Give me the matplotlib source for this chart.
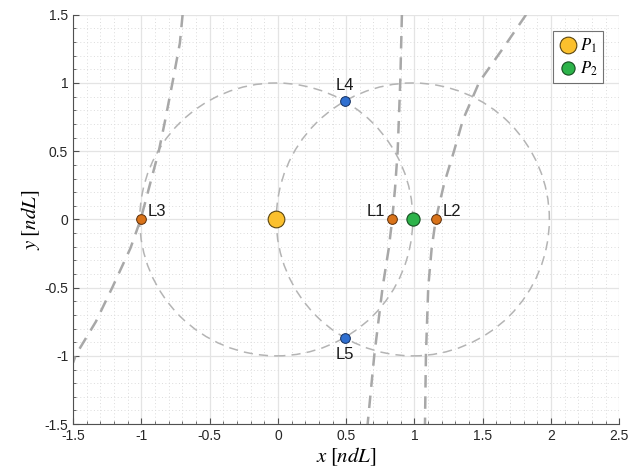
import numpy as np
import matplotlib.pyplot as plt
from matplotlib.patches import Circle
from matplotlib.ticker import MultipleLocator

plt.rcParams['font.family'] = ['Liberation Sans', 'DejaVu Sans']
plt.rcParams['mathtext.fontset'] = 'stix'

# primaries
mu = 0.01215
p1 = (-mu, 0.0)
p2 = (1 - mu, 0.0)

# libration points
lx = [0.837, 1.156, -1.005, 0.488, 0.488]
ly = [0.0, 0.0, 0.0, 0.866, -0.866]
lnames = ['L1', 'L2', 'L3', 'L4', 'L5']

# dashed curves
c3x = [-0.698, -0.718, -0.771, -0.825, -0.872, -0.935, -1.005, -1.080, -1.211, -1.333, -1.480, -1.50]
c3y = [1.50, 1.292, 1.008, 0.730, 0.502, 0.265, 0.0, -0.211, -0.495, -0.749, -0.993, -1.05]
c1x = [0.908, 0.896, 0.877, 0.858, 0.837, 0.812, 0.767, 0.706, 0.657]
c1y = [1.50, 1.008, 0.502, 0.230, 0.0, -0.211, -0.495, -0.993, -1.50]
c2x = [1.817, 1.675, 1.475, 1.355, 1.290, 1.218, 1.156, 1.126, 1.101, 1.084, 1.077]
c2y = [1.50, 1.292, 1.008, 0.730, 0.502, 0.265, 0.0, -0.211, -0.495, -0.993, -1.50]

fig = plt.figure(figsize=(6.3, 4.76), dpi=100)
ax = fig.add_axes([0.116, 0.109, 0.867, 0.860])

ax.set_xlim(-1.5, 2.5)
ax.set_ylim(-1.5, 1.5)
ax.xaxis.set_major_locator(MultipleLocator(0.5))
ax.yaxis.set_major_locator(MultipleLocator(0.5))
ax.xaxis.set_minor_locator(MultipleLocator(0.1))
ax.yaxis.set_minor_locator(MultipleLocator(0.1))
ax.grid(which='major', color='#e4e4e4', lw=0.9)
ax.grid(which='minor', color='#dcdcdc', lw=0.7, ls=(0, (1, 2.5)))
ax.set_axisbelow(True)
for s in ['top', 'right']:
    ax.spines[s].set_visible(False)
for s in ['left', 'bottom']:
    ax.spines[s].set_color('#505050')
ax.tick_params(which='both', direction='in', colors='#505050', labelcolor='#262626', labelsize=10)
ax.tick_params(which='major', length=4)
ax.tick_params(which='minor', length=2)
ax.set_xticks(np.arange(-1.5, 2.51, 0.5))
ax.set_xticklabels(['-1.5', '-1', '-0.5', '0', '0.5', '1', '1.5', '2', '2.5'])
ax.set_yticks(np.arange(-1.5, 1.51, 0.5))
ax.set_yticklabels(['-1.5', '-1', '-0.5', '0', '0.5', '1', '1.5'])

for c in [p1, p2]:
    ax.add_patch(Circle(c, 1.0, fill=False, ec='#b4b4b4', lw=1.1, ls=(0, (6, 4))))

for cx, cy in [(c3x, c3y), (c1x, c1y), (c2x, c2y)]:
    ax.plot(cx, cy, color='#a8a8a8', lw=1.8, ls=(0, (5, 3.5)))

ax.plot(lx[:3], ly[:3], 'o', color='#d9731a', mec='#5a2e0a', mew=0.7, ms=7, ls='none')
ax.plot(lx[3:], ly[3:], 'o', color='#2f6fd0', mec='#15305e', mew=0.7, ms=7, ls='none')
ax.plot(*p1, 'o', color='#fbc02d', mec='#5a4510', mew=0.8, ms=12, ls='none', label='$P_1$')
ax.plot(*p2, 'o', color='#2db34a', mec='#154d20', mew=0.8, ms=9.5, ls='none', label='$P_2$')

offs = [(-5, 6, 'right'), (5, 6, 'left'), (5, 6, 'left'), (0, 11, 'center'), (0, -12, 'center')]
for name, x, y, (dx, dy, ha) in zip(lnames, lx, ly, offs):
    ax.annotate(name, (x, y), xytext=(dx, dy), textcoords='offset points',
                ha=ha, va='center', fontsize=12, color='#1a1a1a')

leg = ax.legend(loc='upper right', fontsize=12, frameon=True, fancybox=False,
                edgecolor='#505050', borderaxespad=1.0, handletextpad=0.1,
                borderpad=0.3, labelspacing=0.3, handlelength=1.2)
leg.get_frame().set_linewidth(0.8)

ax.set_xlabel('$x\\;[ndL]$', fontsize=15, labelpad=2)
ax.set_ylabel('$y\\;[ndL]$', fontsize=15, labelpad=2)

plt.savefig('out.png', dpi=100)
plt.close()
